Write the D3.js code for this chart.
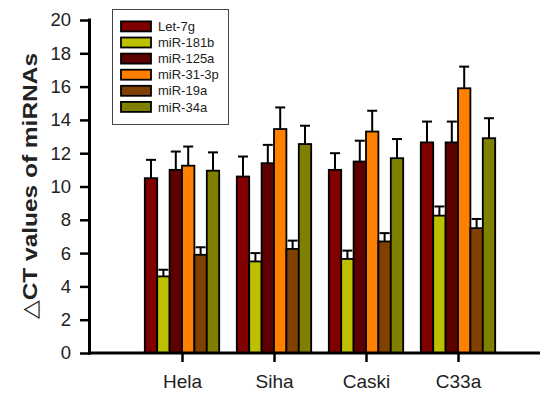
<!DOCTYPE html>
<html>
<head>
<meta charset="utf-8">
<script src="https://cdn.jsdelivr.net/npm/d3@7"></script>
<style>
  body { margin: 0; background: #fff; }
  svg { display: block; font-family: "Liberation Sans", Arial, sans-serif; }
</style>
</head>
<body>
<div id="chart"></div>
<script>
// Cell lines and miRNAs
const cells = ["Hela", "Siha", "Caski", "C33a"];
const mirnas = ["Let-7g", "miR-181b", "miR-125a", "miR-31-3p", "miR-19a", "miR-34a"];
const colors = ["#800000", "#bcc000", "#5c0000", "#ff8000", "#7f4000", "#808000"];

// Mean delta CT per miRNA (rows) across cells (columns)
const means = [
  [10.5, 10.6, 11.0, 12.65],
  [4.6, 5.5, 5.65, 8.25],
  [11.0, 11.4, 11.5, 12.65],
  [11.25, 13.45, 13.3, 15.9],
  [5.9, 6.25, 6.7, 7.5],
  [10.95, 12.55, 11.7, 12.9]
];
// Error (upper) per miRNA across cells
const errors = [
  [1.1, 1.2, 1.0, 1.25],
  [0.4, 0.5, 0.5, 0.55],
  [1.1, 1.1, 1.25, 1.25],
  [1.15, 1.3, 1.25, 1.3],
  [0.45, 0.5, 0.5, 0.55],
  [1.1, 1.1, 1.15, 1.2]
];
const yTicks = [0, 2, 4, 6, 8, 10, 12, 14, 16, 18, 20];

const W = 548, H = 393;
const margin = { top: 20, right: 8, bottom: 40, left: 90 };
const width = W - margin.left - margin.right;
const height = H - margin.top - margin.bottom;

const svg = d3.select("#chart").append("svg")
    .attr("width", W)
    .attr("height", H);

const g = svg.append("g")
    .attr("transform", `translate(${margin.left},${margin.top})`);

// x scale for cell groups
const x0 = d3.scalePoint()
    .domain(cells)
    .range([92, 368]);

const barW = 12.4;
const x1 = d3.scaleBand()
    .domain(mirnas)
    .range([-barW * 3, barW * 3])
    .padding(0);

const y = d3.scaleLinear()
    .domain([0, 20])
    .range([height, 0]);

const rows = [];
cells.forEach((c, ci) => {
  mirnas.forEach((m, mi) => {
    rows.push({ cell: c, mirna: m, mi: mi, v: means[mi][ci], e: errors[mi][ci] });
  });
});

// Error bars (upper only)
const err = g.append("g").selectAll("g")
  .data(rows)
  .join("g")
  .attr("transform", d => `translate(${x0(d.cell) + x1(d.mirna) + x1.bandwidth() / 2},0)`);

err.append("line")
  .attr("x1", 0).attr("x2", 0)
  .attr("y1", d => y(d.v))
  .attr("y2", d => y(d.v + d.e))
  .attr("stroke", "#000")
  .attr("stroke-width", 2);

err.append("line")
  .attr("x1", -5).attr("x2", 5)
  .attr("y1", d => y(d.v + d.e))
  .attr("y2", d => y(d.v + d.e))
  .attr("stroke", "#000")
  .attr("stroke-width", 2);

// Bars
g.append("g").selectAll("rect")
  .data(rows)
  .join("rect")
  .attr("x", d => x0(d.cell) + x1(d.mirna))
  .attr("y", d => y(d.v))
  .attr("width", x1.bandwidth())
  .attr("height", d => height - y(d.v))
  .attr("fill", d => colors[d.mi])
  .attr("stroke", "#000")
  .attr("stroke-width", 1.8);

// Y axis
const yAxis = g.append("g")
  .call(d3.axisLeft(y).tickValues(yTicks).tickSize(10).tickPadding(9));
yAxis.select(".domain").attr("stroke-width", 3).attr("d", `M-0.5,${height + 1.5}V-1.5`);
yAxis.selectAll(".tick line").attr("stroke-width", 2.5);
yAxis.selectAll("text")
  .style("font-size", "18.5px")
  .attr("fill", "#222");

// X axis
const xAxis = g.append("g")
  .attr("transform", `translate(0,${height})`)
  .call(d3.axisBottom(x0).tickSize(9).tickPadding(13));
xAxis.select(".domain").attr("stroke-width", 3).attr("d", `M-2,0H${width}`);
xAxis.selectAll(".tick line").attr("stroke-width", 2.5);
xAxis.selectAll("text")
  .style("font-size", "19px")
  .attr("fill", "#222");

// Y axis title
const title = svg.append("text")
  .attr("transform", `translate(37,186) rotate(-90)`)
  .attr("text-anchor", "middle")
  .attr("textLength", 266)
  .attr("lengthAdjust", "spacingAndGlyphs")
  .style("font-size", "21px")
  .attr("fill", "#222");
title.append("tspan")
  .style("font-weight", "normal")
  .text("△");
title.append("tspan")
  .style("font-weight", "bold")
  .text("CT values of miRNAs");

// Legend
const legend = svg.append("g").attr("transform", "translate(112,9)");
legend.append("rect")
  .attr("x", 0.5).attr("y", 0.5)
  .attr("width", 116).attr("height", 115)
  .attr("fill", "#fff")
  .attr("stroke", "#444")
  .attr("stroke-width", 1);

const item = legend.selectAll("g.item")
  .data(mirnas)
  .join("g")
  .attr("class", "item")
  .attr("transform", (d, i) => `translate(9,${12.4 + i * 16.1})`);

item.append("rect")
  .attr("width", 30).attr("height", 10)
  .attr("fill", (d, i) => colors[i])
  .attr("stroke", "#000")
  .attr("stroke-width", 1.8);

item.append("text")
  .attr("x", 37)
  .attr("y", 5)
  .attr("dy", "0.36em")
  .style("font-size", "13px")
  .attr("fill", "#222")
  .text(d => d);
</script>
</body>
</html>
